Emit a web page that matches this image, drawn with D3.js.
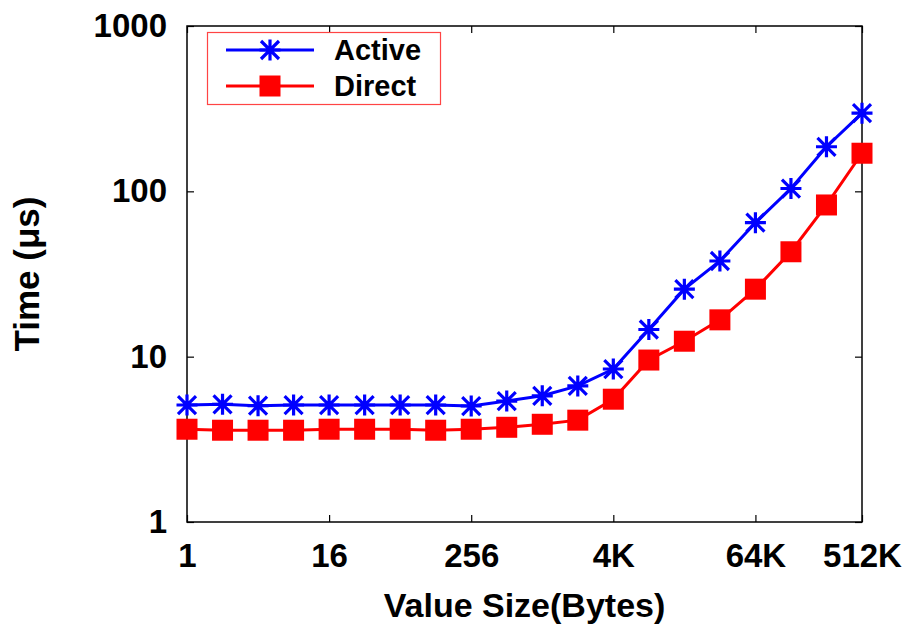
<!DOCTYPE html>
<html>
<head>
<meta charset="utf-8">
<script src="https://cdn.jsdelivr.net/npm/d3@7"></script>
<style>
  body { margin: 0; background: #fff; }
  svg { display: block; font-family: "Liberation Sans", Arial, Helvetica, sans-serif; font-weight: bold; }
</style>
</head>
<body>
<svg id="chart" width="906" height="626"></svg>
<script>
// value sizes in bytes: 1 .. 512K (powers of two)
var sizes = [1, 2, 4, 8, 16, 32, 64, 128, 256, 512, 1024, 2048, 4096, 8192,
             16384, 32768, 65536, 131072, 262144, 524288];
var activeTime = [5.1, 5.15, 5.05, 5.1, 5.1, 5.1, 5.1, 5.1, 5.03, 5.39, 5.8, 6.65, 8.42,
                  14.6, 25.6, 37.9, 64.6, 104, 186, 297];
var directTime = [3.64, 3.59, 3.59, 3.59, 3.64, 3.64, 3.64, 3.59, 3.64, 3.74, 3.9, 4.13, 5.53,
                  9.54, 12.4, 16.7, 25.6, 43.1, 82.7, 170];
var xTickValues = [1, 16, 256, 4096, 65536, 524288];
var xTickLabels = ["1", "16", "256", "4K", "64K", "512K"];
var yTickValues = [1, 10, 100, 1000];
var seriesNames = ["Active", "Direct"];

var svg = d3.select("#chart");
var margin = { top: 26, right: 44, bottom: 104, left: 187 };
var width = +svg.attr("width") - margin.left - margin.right;
var height = +svg.attr("height") - margin.top - margin.bottom;
var g = svg.append("g").attr("transform", "translate(" + margin.left + "," + margin.top + ")");

var x = d3.scaleLog().base(2)
    .domain([1, 524288])
    .range([0, width]);

var y = d3.scaleLog()
    .domain([1, 1000])
    .range([height, 0]);

var tickLen = 7;

// Bottom axis (ticks pointing inward)
g.append("g")
    .attr("class", "axis")
    .attr("transform", "translate(0," + height + ")")
    .call(d3.axisBottom(x)
        .tickValues(xTickValues)
        .tickSizeInner(-tickLen)
        .tickSizeOuter(0)
        .tickPadding(22)
        .tickFormat(function(d, i) { return xTickLabels[i]; }));

// Top axis mirror ticks
g.append("g")
    .attr("class", "axis")
    .call(d3.axisTop(x)
        .tickValues(xTickValues)
        .tickSizeInner(-tickLen)
        .tickSizeOuter(0)
        .tickFormat(""));

// Left axis
g.append("g")
    .attr("class", "axis")
    .call(d3.axisLeft(y)
        .tickValues(yTickValues)
        .tickSizeInner(-tickLen)
        .tickSizeOuter(0)
        .tickPadding(20)
        .tickFormat(d3.format("d")));

// Right axis mirror ticks
g.append("g")
    .attr("class", "axis")
    .attr("transform", "translate(" + width + ",0)")
    .call(d3.axisRight(y)
        .tickValues(yTickValues)
        .tickSizeInner(-tickLen)
        .tickSizeOuter(0)
        .tickFormat(""));

svg.selectAll(".axis .domain").remove();
svg.selectAll(".axis line").attr("stroke", "#000").attr("stroke-width", 1.2);
svg.selectAll(".axis text")
    .attr("fill", "#000")
    .style("font-size", "33px")
    .style("font-weight", "bold")
    .style("font-family", "'Liberation Sans', Arial, Helvetica, sans-serif");

// Frame
g.append("rect")
    .attr("x", 0)
    .attr("y", 0)
    .attr("width", width)
    .attr("height", height)
    .attr("fill", "none")
    .attr("stroke", "#000")
    .attr("stroke-width", 1.5);

// Axis titles
svg.append("text")
    .attr("x", margin.left + width / 2)
    .attr("y", 617)
    .attr("text-anchor", "middle")
    .style("font-size", "34px")
    .text("Value Size(Bytes)");

svg.append("text")
    .attr("transform", "translate(39," + (margin.top + height / 2) + ") rotate(-90)")
    .attr("text-anchor", "middle")
    .style("font-size", "35px")
    .text("Time (\u03bcs)");

// Lines
var line = d3.line()
    .x(function(d, i) { return x(sizes[i]); })
    .y(function(d) { return y(d); });

var starPath = "M-10.5,0H10.5M0,-10.5V10.5M-9,-9L9,9M-9,9L9,-9";

function drawStar(sel, cx, cy) {
    sel.append("path")
        .attr("d", starPath)
        .attr("transform", "translate(" + cx + "," + cy + ")")
        .attr("stroke", "#0000ff")
        .attr("stroke-width", 3.2)
        .attr("fill", "none");
}

function drawSquare(sel, cx, cy) {
    sel.append("rect")
        .attr("x", cx - 10.5)
        .attr("y", cy - 10.5)
        .attr("width", 21)
        .attr("height", 21)
        .attr("fill", "#ff0000");
}

g.append("path")
    .datum(activeTime)
    .attr("d", line)
    .attr("fill", "none")
    .attr("stroke", "#0000ff")
    .attr("stroke-width", 3);

var activePts = g.append("g");
activeTime.forEach(function(v, i) { drawStar(activePts, x(sizes[i]), y(v)); });

g.append("path")
    .datum(directTime)
    .attr("d", line)
    .attr("fill", "none")
    .attr("stroke", "#ff0000")
    .attr("stroke-width", 3);

var directPts = g.append("g");
directTime.forEach(function(v, i) { drawSquare(directPts, x(sizes[i]), y(v)); });

// Legend
var legend = svg.append("g").attr("transform", "translate(207.5,32.5)");
legend.append("rect")
    .attr("width", 233)
    .attr("height", 72)
    .attr("fill", "#fff")
    .attr("stroke", "#ff4444")
    .attr("stroke-width", 1.2);

var legendColors = ["#0000ff", "#ff0000"];
seriesNames.forEach(function(name, i) {
    var ly = 17.5 + i * 36;
    legend.append("line")
        .attr("x1", 18.5).attr("x2", 106.5)
        .attr("y1", ly).attr("y2", ly)
        .attr("stroke", legendColors[i])
        .attr("stroke-width", 3);
    if (i === 0) drawStar(legend, 62.5, ly);
    else drawSquare(legend, 62.5, ly);
    legend.append("text")
        .attr("x", 126.5)
        .attr("y", ly)
        .attr("dy", "0.36em")
        .style("font-size", "29px")
        .text(name);
});
</script>
</body>
</html>
